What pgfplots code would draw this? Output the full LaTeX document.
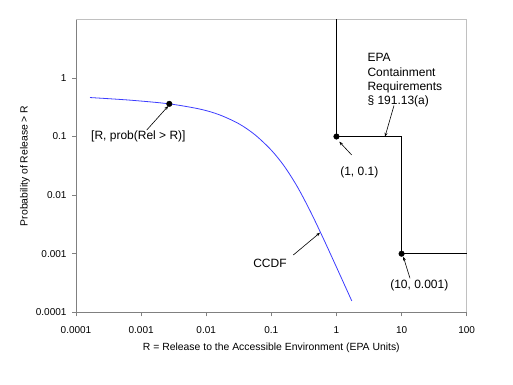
\documentclass[border=0pt]{standalone}
\usepackage{fontspec}
\setmainfont{Liberation Sans}
\usepackage{pgfplots}
\pgfplotsset{compat=1.18}
\usetikzlibrary{arrows.meta}
\definecolor{axisgray}{RGB}{128,128,128}
\definecolor{framegray}{RGB}{192,192,192}
\definecolor{ccdfblue}{RGB}{60,60,255}
\begin{document}
\fontsize{10}{12}\selectfont
\begin{tikzpicture}
\path[use as bounding box] (-76pt,-71.7pt) rectangle (437pt,312.3pt);
\begin{axis}[
  at={(0,0)}, anchor=south west,
  scale only axis, width=390.7pt, height=293pt,
  xmode=log, ymode=log,
  xmin=0.0001, xmax=100, ymin=0.0001, ymax=10,
  xtick={0.0001,0.001,0.01,0.1,1,10,100},
  xticklabels={0.0001,0.001,0.01,0.1,1,10,100},
  ytick={0.0001,0.001,0.01,0.1,1},
  yticklabels={0.0001,0.001,0.01,0.1,1},
  xminorticks=false, yminorticks=false,
  axis lines*=left,
  axis line style={-, draw=axisgray, line width=0.8pt},
  tick align=outside, major tick length=4pt,
  tick style={draw=axisgray, line width=0.8pt},
  /pgf/number format/assume math mode=true,
  xticklabel style={font=\fontsize{10}{12}\selectfont, yshift=-7pt},
  yticklabel style={font=\fontsize{10}{12}\selectfont, xshift=-2pt},
  clip=false,
  xlabel={R = Release to the Accessible Environment (EPA Units)},
  ylabel={Probability of Release > R},
  xlabel style={at={(axis description cs:0.5,0)}, anchor=center, yshift=-35pt, font=\fontsize{10.4}{12}\selectfont},
  ylabel style={at={(axis description cs:0,0.5)}, anchor=center, yshift=51pt, font=\fontsize{10.4}{12}\selectfont},
]
\draw[framegray, line width=0.8pt] (rel axis cs:0,1) -- (rel axis cs:1,1) -- (rel axis cs:1,0);

% CCDF curve
\addplot[ccdfblue, line width=0.8pt, smooth, no marks] coordinates {
  (1.641e-4, 0.4624)
  (6.761e-4, 0.4173)
  (2.710e-3, 0.3607)
  (8.035e-3, 0.2934)
  (0.01585, 0.2352)
  (0.03162, 0.1654)
  (0.05623, 0.1068)
  (0.1, 0.05834)
  (0.1585, 0.03097)
  (0.2512, 0.01384)
  (0.3981, 0.00526)
  (0.6310, 0.001803)
  (1.0, 5.902e-4)
  (1.718, 1.567e-4)
};

% EPA limits
\addplot[black, line width=1.4pt, no marks] coordinates {
  (1, 10) (1, 0.1) (10, 0.1) (10, 0.001) (100, 0.001)
};

% markers
\addplot[only marks, mark=*, mark size=2.8pt, black] coordinates {
  (2.710e-3, 0.3607) (1, 0.1) (10, 0.001)
};

% annotations
\begin{scope}[every node/.style={font=\fontsize{12}{14.4}\selectfont, inner sep=0pt}]
\node[anchor=west] at (rel axis cs:0.0384,0.6017) {[R, prob(Rel > R)]};
\draw[black, line width=0.6pt, -{Stealth[length=4pt,width=3pt]}] (rel axis cs:0.181,0.622) -- (rel axis cs:0.2362,0.7041);

\node[anchor=base west] at (rel axis cs:0.7456,0.8577) {EPA};
\node[anchor=base west] at (rel axis cs:0.7456,0.8065) {Containment};
\node[anchor=base west] at (rel axis cs:0.7456,0.7577) {Requirements};
\node[anchor=base west] at (rel axis cs:0.7456,0.7099) {§ 191.13(a)};
\draw[black, line width=0.6pt, -{Stealth[length=4pt,width=3pt]}] (rel axis cs:0.8139,0.7058) -- (rel axis cs:0.7909,0.5993);

\node[anchor=base] at (rel axis cs:0.7251,0.4662) {(1, 0.1)};
\draw[black, line width=0.6pt, -{Stealth[length=4pt,width=3pt]}] (rel axis cs:0.7057,0.5369) -- (rel axis cs:0.6739,0.5823);

\node[anchor=base] at (rel axis cs:0.8787,0.0829) {(10, 0.001)};
\draw[black, line width=0.6pt, -{Stealth[length=4pt,width=3pt]}] (rel axis cs:0.8549,0.1160) -- (rel axis cs:0.8377,0.1898);

\node[anchor=base] at (rel axis cs:0.4965,0.1546) {CCDF};
\draw[black, line width=0.6pt, -{Stealth[length=4pt,width=3pt]}] (rel axis cs:0.5562,0.1956) -- (rel axis cs:0.6245,0.2717);
\end{scope}
\end{axis}
\end{tikzpicture}
\end{document}
